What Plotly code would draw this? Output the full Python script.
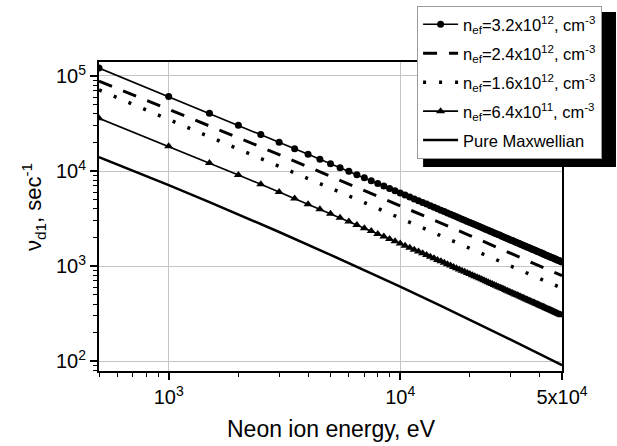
import plotly.graph_objects as go

# ---------------- data ----------------
# marker series: points every 500 eV
energy_markers = list(range(500, 50001, 500))
nu_3p2e12 = [121000, 60800, 40500, 30300, 24200, 20100, 17200, 15020, 13320, 11970,
             10860, 9936, 9155, 8487, 7908, 7402, 6956, 6560, 6205, 5887,
             5599, 5337, 5099, 4880, 4679, 4494, 4322, 4164, 4015, 3877,
             3748, 3627, 3514, 3407, 3306, 3211, 3122, 3036, 2956, 2880,
             2807, 2738, 2672, 2609, 2549, 2491, 2436, 2384, 2333, 2285,
             2238, 2193, 2150, 2109, 2069, 2031, 1994, 1958, 1924, 1890,
             1858, 1827, 1797, 1767, 1739, 1712, 1685, 1659, 1634, 1610,
             1586, 1563, 1541, 1519, 1498, 1478, 1458, 1438, 1419, 1401,
             1383, 1365, 1348, 1331, 1315, 1299, 1283, 1268, 1253, 1238,
             1224, 1210, 1197, 1183, 1170, 1158, 1145, 1133, 1121, 1109]
nu_6p4e11 = [35900, 18200, 12150, 9100, 7260, 6030, 5150, 4490, 3980, 3570,
             3231, 2951, 2715, 2513, 2338, 2185, 2050, 1931, 1824, 1728,
             1641, 1562, 1490, 1425, 1364, 1309, 1257, 1209, 1165, 1124,
             1085, 1049, 1015, 983, 953, 925, 898, 872, 848, 826,
             804, 784, 764, 745, 727, 710, 694, 678, 663, 649,
             635, 622, 609, 597, 585, 574, 563, 553, 543, 533,
             523, 514, 505, 497, 488, 480, 472, 465, 458, 450,
             443, 437, 430, 424, 418, 412, 406, 400, 395, 389,
             384, 379, 374, 369, 364, 360, 355, 351, 346, 342,
             338, 334, 330, 326, 322, 319, 315, 311, 308, 305]

# line-only series
energy_lines = [500, 700, 1000, 1500, 2000, 3000, 5000, 7000, 10000, 15000, 20000, 30000, 50000]
nu_2p4e12 = [88500, 63650, 44770, 29910, 22420, 14890, 8850, 6266, 4333, 2841, 2101, 1369, 794]
nu_1p6e12 = [71290, 50520, 35050, 23080, 17150, 11260, 6622, 4661, 3208, 2096, 1547, 1008, 586]
nu_maxw = [14030, 10120, 7112, 4718, 3506, 2288, 1318, 909, 609, 383, 274, 169, 91]

series_names = [
    "n<sub>ef</sub>=3.2x10<sup>12</sup>, cm<sup>-3</sup>",
    "n<sub>ef</sub>=2.4x10<sup>12</sup>, cm<sup>-3</sup>",
    "n<sub>ef</sub>=1.6x10<sup>12</sup>, cm<sup>-3</sup>",
    "n<sub>ef</sub>=6.4x10<sup>11</sup>, cm<sup>-3</sup>",
    "Pure Maxwellian",
]

x_tickvals = [1000, 10000, 50000]
x_ticktext = ["10<sup>3</sup>", "10<sup>4</sup>", "5x10<sup>4</sup>"]
y_tickvals = [100, 1000, 10000, 100000]
y_ticktext = ["10<sup>2</sup>", "10<sup>3</sup>", "10<sup>4</sup>", "10<sup>5</sup>"]
x_title = "Neon ion energy, eV"
y_title = "ν<sub>d1</sub>, sec<sup>-1</sup>"

FONT = "Arial, Liberation Sans, sans-serif"

fig = go.Figure()
fig.add_trace(go.Scatter(x=energy_markers, y=nu_3p2e12, name=series_names[0],
                         legendgroup="a", mode="lines+markers",
                         line=dict(color="black", width=1.6),
                         marker=dict(symbol="circle", size=7, color="black")))
fig.add_trace(go.Scatter(x=energy_lines, y=nu_2p4e12, name=series_names[1],
                         legendgroup="b", mode="lines",
                         line=dict(color="black", width=3, dash="14px,12px")))
fig.add_trace(go.Scatter(x=energy_lines, y=nu_1p6e12, name=series_names[2],
                         legendgroup="c", mode="lines",
                         line=dict(color="black", width=3.5, dash="3px,13px")))
fig.add_trace(go.Scatter(x=energy_markers, y=nu_6p4e11, name=series_names[3],
                         legendgroup="d", mode="lines+markers",
                         line=dict(color="black", width=1.6),
                         marker=dict(symbol="triangle-up", size=8, color="black")))
fig.add_trace(go.Scatter(x=energy_lines, y=nu_maxw, name=series_names[4],
                         legendgroup="e", mode="lines",
                         line=dict(color="black", width=2.5)))

# legend drop shadow
fig.add_shape(type="rect", xref="paper", yref="paper",
              x0=0.700, x1=1.1166, y0=0.660, y1=1.162,
              fillcolor="black", line=dict(width=0), layer="above")

axis_common = dict(
    type="log", showline=True, linewidth=2, linecolor="black", mirror=True,
    ticks="outside", ticklen=7, tickwidth=1.5, tickcolor="black",
    showgrid=True, gridcolor="#c4c4c4", gridwidth=1, zeroline=False,
    tickfont=dict(family=FONT, size=20, color="black"),
    minor=dict(ticks="outside", ticklen=4, tickwidth=1.2, tickcolor="black",
               dtick="D1", showgrid=False),
)

fig.update_xaxes(**axis_common, range=[2.69897, 4.69897],
                 tickvals=x_tickvals, ticktext=x_ticktext)
fig.update_yaxes(**axis_common, range=[1.898, 5.147],
                 tickvals=y_tickvals, ticktext=y_ticktext)

fig.add_annotation(text=x_title, xref="paper", yref="paper", x=0.503, y=-0.188,
                   xanchor="center", yanchor="middle", showarrow=False,
                   font=dict(family=FONT, size=23, color="black"))
fig.add_annotation(text=y_title, xref="paper", yref="paper", x=-0.140, y=0.531,
                   xanchor="center", yanchor="middle", showarrow=False, textangle=-90,
                   font=dict(family=FONT, size=22, color="black"))

fig.update_layout(
    width=617, height=446,
    margin=dict(l=99, r=55, t=62, b=75, autoexpand=False),
    paper_bgcolor="white", plot_bgcolor="white",
    font=dict(family=FONT, color="black"),
    showlegend=True,
    legend=dict(x=0.687, y=1.181, xanchor="left", yanchor="top",
                bgcolor="white", bordercolor="#9a9a9a", borderwidth=1,
                font=dict(family=FONT, size=16.5, color="black"),
                itemwidth=35, tracegroupgap=4.5),
)

fig.write_html("out.html", config={"displayModeBar": False},
               post_script="document.body.style.margin='0px';")
